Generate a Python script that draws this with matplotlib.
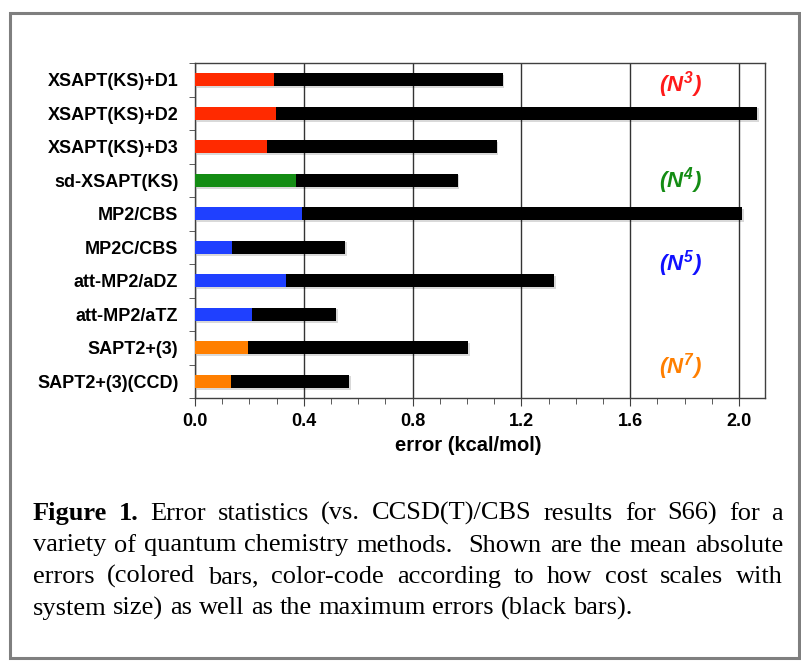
import matplotlib
matplotlib.use('Agg')
import matplotlib.pyplot as plt
import matplotlib.patheffects as pe
from matplotlib.patches import Rectangle
import numpy as np

# data
methods = ["XSAPT(KS)+D1", "XSAPT(KS)+D2", "XSAPT(KS)+D3", "sd-XSAPT(KS)",
           "MP2/CBS", "MP2C/CBS", "att-MP2/aDZ", "att-MP2/aTZ",
           "SAPT2+(3)", "SAPT2+(3)(CCD)"]
mae = [0.29, 0.297, 0.264, 0.373, 0.395, 0.135, 0.335, 0.211, 0.196, 0.131]
max_err = [1.131, 2.068, 1.109, 0.966, 2.012, 0.551, 1.320, 0.520, 1.004, 0.566]
bar_colors = ["#ff2a00", "#ff2a00", "#ff2a00", "#148c14",
              "#1f40ff", "#1f40ff", "#1f40ff", "#1f40ff",
              "#ff7f00", "#ff7f00"]

scaling_powers = ["3", "4", "5", "7"]
scaling_colors = ["#ff1a1a", "#148c14", "#1010ff", "#ff7f00"]
scaling_rows = [0.15, 3.0, 5.5, 8.55]

xticks = [0.0, 0.4, 0.8, 1.2, 1.6, 2.0]

caption_lines = [
    [("Figure 1.", "bold"), ("Error statistics (vs. CCSD(T)/CBS results for S66) for a", "normal")],
    [("variety of quantum chemistry methods.  Shown are the mean absolute", "normal")],
    [("errors (colored bars, color-code according to how cost scales with", "normal")],
    [("system size) as well as the maximum errors (black bars).", "normal")],
]

W, H = 801, 661
plt.rcParams['mathtext.fontset'] = 'custom'
plt.rcParams['mathtext.rm'] = 'Liberation Sans:italic:bold'
plt.rcParams['mathtext.it'] = 'Liberation Sans:italic:bold'
plt.rcParams['mathtext.bf'] = 'Liberation Sans:italic:bold'

fig = plt.figure(figsize=(W / 100, H / 100), dpi=100)
ax = fig.add_axes([195 / W, 1 - 398 / H, 570 / W, 335 / H])

y = np.arange(len(methods))
shadow = [pe.SimplePatchShadow(offset=(1.2, -1.2), alpha=0.15), pe.Normal()]
ax.barh(y, max_err, height=0.4, color="black", zorder=3, path_effects=shadow)
ax.barh(y, mae, height=0.4, color=bar_colors, zorder=4)

ax.set_xlim(0, 2.096)
ax.set_ylim(len(methods) - 0.5, -0.5)
ax.set_xticks(xticks)
ax.set_xticklabels(["%.1f" % v for v in xticks])
ax.set_xticks(np.arange(0, 2.1, 0.1), minor=True)
ax.set_yticks(y)
ax.set_yticklabels(methods)
ax.set_yticks(np.arange(-0.5, len(methods), 1.0), minor=True)

for lab in ax.get_xticklabels() + ax.get_yticklabels():
    lab.set_family("Liberation Sans")
    lab.set_weight("bold")
    lab.set_fontsize(13)
ax.tick_params(axis='y', which='major', length=0, pad=12)
ax.tick_params(axis='y', which='minor', length=4, direction='out', color='#404040')
ax.tick_params(axis='x', which='major', length=6, direction='out', pad=5, color='#404040')
ax.tick_params(axis='x', which='minor', length=4, direction='out', color='#404040')

ax.xaxis.grid(True, which='major', color='#333333', lw=1)
ax.set_axisbelow(True)
for s in ax.spines.values():
    s.set_color('#404040')
    s.set_linewidth(1)

ax.set_xlabel("error (kcal/mol)", family="Liberation Sans", weight="bold", fontsize=14.5)
ax.xaxis.set_label_coords(0.48, -0.112)

for p, c, r in zip(scaling_powers, scaling_colors, scaling_rows):
    ax.text(1.786, r, r"$(N^{%s})$" % p, color=c, fontsize=16,
            ha='center', va='center', zorder=5)

# caption, justified like the printed page
CAP_FS = 19
LEFT, RIGHT = 33, 783
renderer = fig.canvas.get_renderer()


def put_line(parts, base_px, justify):
    items, gaps = [], []
    g = 0
    for txt, wt in parts:
        for w in txt.split(' '):
            if w == '':
                g += 1
                continue
            t = fig.text(0, 1 - base_px / H, w, fontsize=CAP_FS,
                         family="Liberation Serif", weight=wt, va='baseline')
            items.append(t)
            gaps.append(g)
            g = 1
    widths = [t.get_window_extent(renderer).width for t in items]
    if justify:
        unit = (RIGHT - LEFT - sum(widths)) / sum(gaps[1:])
    else:
        unit = 0.25 * CAP_FS * 100 / 72
    x = LEFT
    for i, t in enumerate(items):
        if i > 0:
            x += gaps[i] * unit
        t.set_x(x / W)
        x += widths[i]


for i, parts in enumerate(caption_lines):
    put_line(parts, 520 + 31.5 * i, i < len(caption_lines) - 1)

fig.patches.append(Rectangle((10 / W, 1 - 658 / H), 789 / W, 645 / H,
                             transform=fig.transFigure, fill=False,
                             edgecolor='#7f7f7f', lw=2.2))

fig.savefig("out.png", dpi=100)
